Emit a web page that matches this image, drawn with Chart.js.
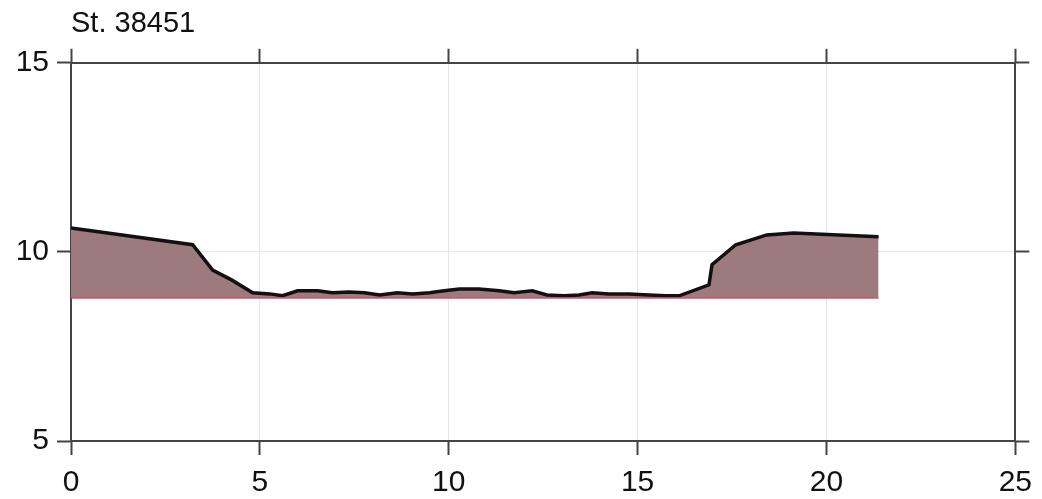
<!DOCTYPE html>
<html>
<head>
<meta charset="utf-8">
<script src="https://cdn.jsdelivr.net/npm/chart.js@4.4.1/dist/chart.umd.min.js"></script>
<style>
  html, body { margin: 0; padding: 0; background: #fff; }
  #chart { display: block; }
</style>
</head>
<body>
<canvas id="chart" width="1042" height="499"></canvas>
<script>
// cross-section profile
const stationName = 'St. 38451'
const profileX = [0, 3.22, 3.75, 4.25, 4.81, 5.26, 5.6, 6.0, 6.53, 6.92, 7.37, 7.77, 8.17, 8.64, 9.04, 9.49, 9.88, 10.28, 10.8, 11.34, 11.73, 12.21, 12.6, 13.05, 13.45, 13.8, 14.24, 14.77, 15.3, 15.75, 16.1, 16.89, 16.97, 17.6, 18.42, 19.13, 21.38]
const profileY = [10.63, 10.19, 9.52, 9.26, 8.92, 8.89, 8.84, 8.97, 8.97, 8.92, 8.94, 8.92, 8.86, 8.92, 8.89, 8.92, 8.97, 9.02, 9.02, 8.97, 8.92, 8.97, 8.86, 8.84, 8.86, 8.92, 8.89, 8.89, 8.86, 8.84, 8.84, 9.13, 9.66, 10.19, 10.45, 10.5, 10.4]
const baseLevel = 8.78
const baseX = [0, 21.38]
const xRange = [0, 25]
const yRange = [5, 15]
const tickStep = 5

const font = { family: "'Liberation Sans', Arial, sans-serif", size: 30 }
const frameColor = '#444'

const profilePoints = profileX.map((x, i) => ({ x: x, y: profileY[i] }))
const basePoints = baseX.map(x => ({ x: x, y: baseLevel }))

const innerGrid = (ctx) => {
  const v = ctx.tick && ctx.tick.value
  return (v === undefined) ? 'rgba(0,0,0,0)' : '#e6e6e6'
}

new Chart(document.getElementById('chart'), {
  type: 'line',
  data: {
    datasets: [
      {
        label: 'baseline',
        data: basePoints,
        borderColor: '#d0506e',
        borderWidth: 1.5,
        pointRadius: 0,
        fill: false,
        order: 0
      },
      {
        label: 'profile',
        data: profilePoints,
        borderColor: '#111',
        borderWidth: 3.5,
        backgroundColor: '#9c7a7e',
        pointRadius: 0,
        tension: 0,
        fill: { value: baseLevel },
        order: 1
      }
    ]
  },
  options: {
    responsive: false,
    animation: false,
    devicePixelRatio: 1,
    layout: { padding: 0 },
    plugins: {
      legend: { display: false },
      tooltip: { enabled: false },
      title: {
        display: true,
        text: stationName,
        align: 'start',
        fullSize: false,
        color: '#111',
        font: { family: font.family, size: 29, weight: 'normal' },
        padding: { top: 7, bottom: 1 }
      }
    },
    scales: {
      x: {
        type: 'linear',
        position: 'bottom',
        min: xRange[0],
        max: xRange[1],
        ticks: { stepSize: tickStep, color: '#111', font: font, padding: 10, maxRotation: 0 },
        grid: { color: innerGrid, lineWidth: 1, tickLength: 14, tickColor: frameColor, tickWidth: 2 },
        border: { display: true, color: frameColor, width: 2 },
        afterFit: (s) => { s.height = 58 }
      },
      x2: {
        type: 'linear',
        position: 'top',
        min: xRange[0],
        max: xRange[1],
        ticks: { display: false, stepSize: tickStep },
        grid: { drawOnChartArea: false, tickLength: 14, tickColor: frameColor, tickWidth: 2 },
        border: { display: true, color: frameColor, width: 2 },
        afterFit: (s) => { s.height = 20 }
      },
      y: {
        type: 'linear',
        position: 'left',
        min: yRange[0],
        max: yRange[1],
        ticks: { stepSize: tickStep, color: '#111', font: font, padding: 8 },
        grid: { color: innerGrid, lineWidth: 1, tickLength: 14, tickColor: frameColor, tickWidth: 2 },
        border: { display: true, color: frameColor, width: 2 },
        afterFit: (s) => { s.width = 71 }
      },
      y2: {
        type: 'linear',
        position: 'right',
        min: yRange[0],
        max: yRange[1],
        ticks: { display: false, stepSize: tickStep },
        grid: { drawOnChartArea: false, tickLength: 14, tickColor: frameColor, tickWidth: 2 },
        border: { display: true, color: frameColor, width: 2 },
        afterFit: (s) => { s.width = 25 }
      }
    }
  }
})
</script>
</body>
</html>
